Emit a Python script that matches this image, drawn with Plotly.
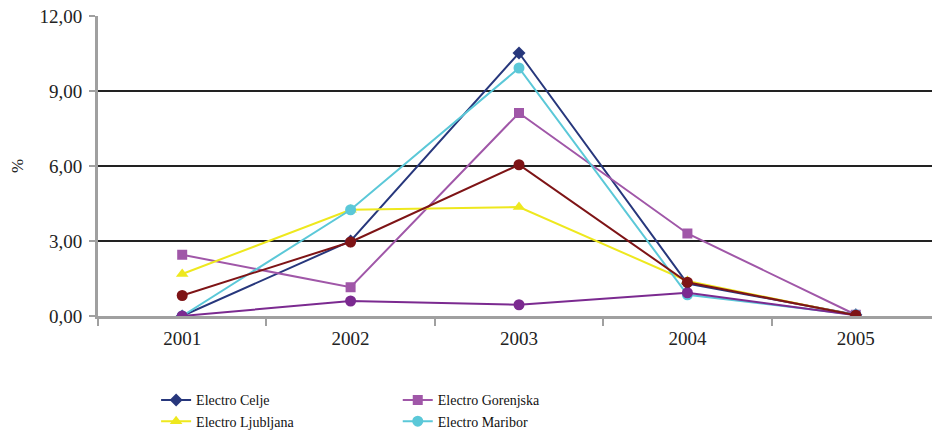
import plotly.graph_objects as go

years = ["2001", "2002", "2003", "2004", "2005"]

celje = [0.0, 3.0, 10.52, 1.3, 0.05]
gorenjska = [2.45, 1.15, 8.12, 3.3, 0.05]
ljubljana = [1.68, 4.25, 4.36, 1.4, 0.02]
maribor = [0.0, 4.25, 9.92, 0.85, 0.05]
primorska = [0.0, 0.6, 0.45, 0.93, 0.03]
slovenija = [0.82, 2.96, 6.05, 1.35, 0.03]

y_ticks = [0, 3, 6, 9, 12]
y_tick_text = ["0,00", "3,00", "6,00", "9,00", "12,00"]
grid_vals = [3, 6, 9]

FONT = "Liberation Serif"

fig = go.Figure()

series = [
    ("Electro Celje", celje, "#27377C", "diamond", 10, "legend", True),
    ("Electro Gorenjska", gorenjska, "#A057A8", "square", 10, "legend2", True),
    ("Electro Ljubljana", ljubljana, "#EEE81E", "triangle-up", 11, "legend", True),
    ("Electro Maribor", maribor, "#5BC8D8", "circle", 11, "legend2", True),
    ("Electro Primorska", primorska, "#7B2A90", "circle", 11, "legend", False),
    ("Slovenija", slovenija, "#7E1416", "circle", 11, "legend2", False),
]

for name, vals, color, sym, size, leg, show in series:
    fig.add_trace(go.Scatter(
        x=years, y=vals, name=name, mode="lines+markers",
        line=dict(color=color, width=2),
        marker=dict(symbol=sym, size=size, color=color),
        legend=leg, showlegend=show,
    ))

for g in grid_vals:
    fig.add_shape(type="line", xref="paper", x0=0, x1=1, yref="y", y0=g, y1=g,
                  line=dict(color="#222222", width=2), layer="below")

fig.update_layout(
    width=932, height=425,
    margin=dict(l=90, r=0, t=8, b=117, autoexpand=False),
    paper_bgcolor="white", plot_bgcolor="white",
    font=dict(family=FONT, color="#222222"),
    xaxis=dict(
        type="category", tickson="boundaries", range=[-0.5, 4.5], automargin=False,
        showgrid=False, showline=True, linecolor="#A0A0A0", linewidth=3,
        ticks="outside", ticklen=7, tickcolor="#A0A0A0", tickwidth=2,
        ticklabelstandoff=3, ticklabeloverflow="allow",
        tickfont=dict(size=19, family=FONT, color="#222222"),
    ),
    yaxis=dict(
        range=[0, 12], tickvals=y_ticks, ticktext=y_tick_text, automargin=False,
        showgrid=False, zeroline=False, showline=True, linecolor="#A0A0A0", linewidth=3,
        ticks="outside", ticklen=6, tickcolor="#A0A0A0", tickwidth=2,
        ticklabelstandoff=3, ticklabeloverflow="allow",
        tickfont=dict(size=19, family=FONT, color="#222222"),
        title=dict(text="%", font=dict(size=17, family=FONT), standoff=12),
    ),
    legend=dict(x=0.069, y=-0.228, xanchor="left", yanchor="top",
                font=dict(size=14, family=FONT, color="#111111"),
                bgcolor="rgba(0,0,0,0)", tracegroupgap=0, itemwidth=30),
    legend2=dict(x=0.356, y=-0.228, xanchor="left", yanchor="top",
                 font=dict(size=14, family=FONT, color="#111111"),
                 bgcolor="rgba(0,0,0,0)", tracegroupgap=0, itemwidth=30),
)

fig.write_html("out.html")
